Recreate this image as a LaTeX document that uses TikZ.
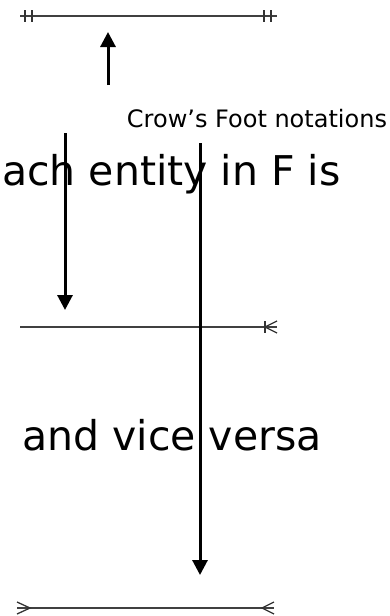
\documentclass[tikz,border=0pt]{standalone}
\usepackage{fontspec}
\setmainfont{DejaVu Sans}
\usetikzlibrary{arrows.meta}

\begin{document}
\begin{tikzpicture}[x=1pt, y=-1pt, >={Triangle[width=15pt,length=15pt]},
  rel/.style={draw=black!75, line width=1.2pt},
  mk/.style={draw=black!80, line width=1.3pt},
  ptr/.style={->, line width=3pt},
  big/.style={font=\fontsize{41}{48}\selectfont, inner sep=0pt},
  lbl/.style={font=\fontsize{24}{28}\selectfont, inner sep=0pt, anchor=base}]
\useasboundingbox (0,0) rectangle (389,616);
% slide text behind
\node[big, anchor=base west] (t1) at (2,185) {ach entity in F is};
\node[big, anchor=base east] (t2) at (322,450) {and vice versa};
% one and only one
\coordinate (a1) at (20,16); \coordinate (a2) at (277,16);
\draw[rel] (a1) -- (a2);
\foreach \x in {25,32,264,271} \draw[mk] (\x,10) -- (\x,22);
% one or many
\coordinate (b1) at (20,327); \coordinate (b2) at (277,327);
\draw[rel] (b1) -- (b2);
\draw[mk] (265,321) -- (265,333);
\draw[mk] (277,321) -- (265,327) -- (277,333);
% many to many
\coordinate (c1) at (17,608); \coordinate (c2) at (274,608);
\draw[rel] (c1) -- (c2);
\draw[mk] (17,602) -- (30,608) -- (17,614);
\draw[mk] (274,602) -- (262,608) -- (274,614);
% label and pointers
\node[lbl] (cf) at (257,127) {Crow’s Foot notations};
\coordinate (p0) at (108,85);  \coordinate (p1) at (108,32);
\coordinate (q0) at (65,133);  \coordinate (q1) at (65,310);
\coordinate (r0) at (200,143); \coordinate (r1) at (200,575);
\draw[ptr] (p0) -- (p1);
\draw[ptr] (q0) -- (q1);
\draw[ptr] (r0) -- (r1);
\end{tikzpicture}
\end{document}
